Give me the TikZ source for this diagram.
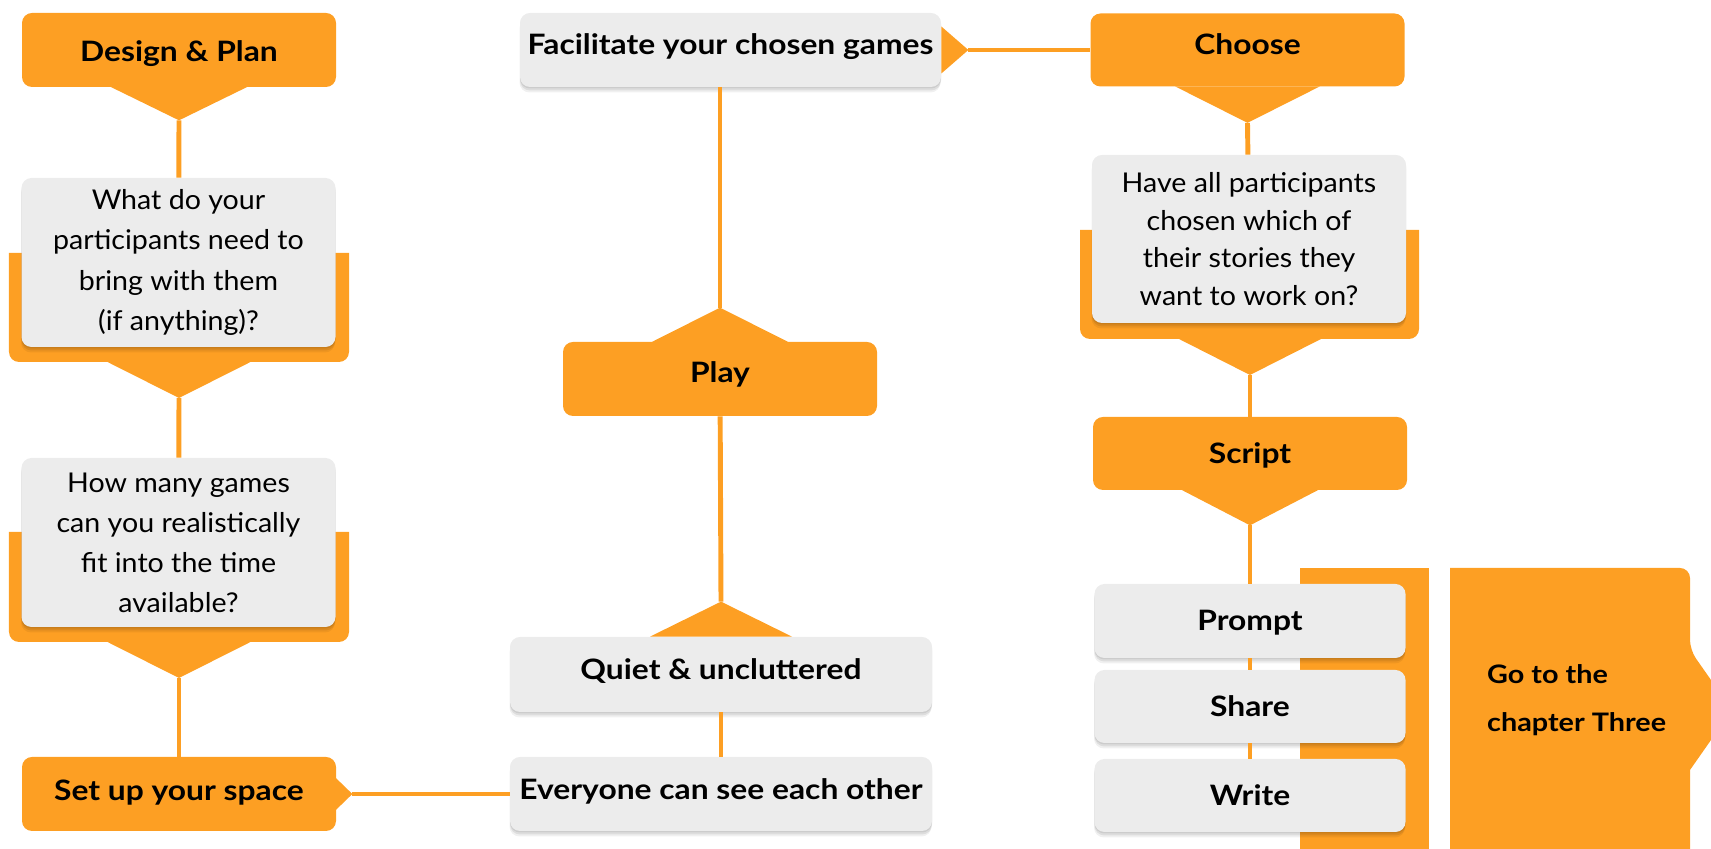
\documentclass[tikz,border=0pt]{standalone}
\usepackage{fontspec}
\setmainfont{Lato}[UprightFeatures={FakeStretch=1.05}, BoldFeatures={FakeStretch=1.13}]
\usetikzlibrary{positioning,calc,shadows}
\definecolor{flowOrange}{RGB}{253,159,35}
\definecolor{flowGray}{RGB}{236,236,236}

\begin{document}
\begin{tikzpicture}[
  boxbase/.style={rectangle, rounded corners=0.2cm, inner sep=0pt, minimum width=6.28cm, minimum height=1.48cm, align=center},
  softshadow/.style={drop shadow={shadow xshift=0pt, shadow yshift=-0.03cm, opacity=0.08, fill=black},
                     drop shadow={shadow xshift=0pt, shadow yshift=-0.07cm, opacity=0.08, fill=black},
                     drop shadow={shadow xshift=-0.01cm, shadow yshift=-0.11cm, opacity=0.06, fill=black}},
  orangebox/.style={boxbase, fill=flowOrange, font=\fontsize{16}{22}\selectfont\bfseries, text height=0.45cm, text depth=0.05cm},
  graybox/.style={boxbase, fill=flowGray, softshadow, font=\fontsize{16}{22}\selectfont\bfseries, text height=0.45cm, text depth=0.05cm},
  question/.style={boxbase, fill=flowGray, softshadow, minimum height=3.38cm, font=\fontsize{15.5}{22.8}\selectfont},
  link/.style={draw=flowOrange, line width=2.8pt},
  backing/.style={fill=flowOrange}
]

\useasboundingbox (0,0) rectangle (34.22,16.98);
\clip (0,0) rectangle (34.22,16.98);

% --- Fondos naranjas (detras de las preguntas) ---
\fill[backing] (0.18,11.92) -- (0.18,10.5) [rounded corners=0.2cm] -- (0.18,9.74) -- (6.98,9.74) -- (6.98,10.5) [sharp corners] -- (6.98,11.92) -- cycle;
\fill[backing] (0.18,6.34) -- (0.18,5.0) [rounded corners=0.2cm] -- (0.18,4.14) -- (6.98,4.14) -- (6.98,5.0) [sharp corners] -- (6.98,6.34) -- cycle;
\fill[backing] (21.6,12.38) -- (21.6,11.0) [rounded corners=0.2cm] -- (21.6,10.2) -- (28.38,10.2) -- (28.38,11.0) [sharp corners] -- (28.38,12.38) -- cycle;
\coordinate (back1tip) at (3.58,9.02);
\coordinate (back2tip) at (3.58,3.42);
\coordinate (back3tip) at (25.0,9.48);
\fill[backing] (2.13,9.75) -- (5.03,9.75) -- (back1tip) -- cycle;
\fill[backing] (2.13,4.15) -- (5.03,4.15) -- (back2tip) -- cycle;
\fill[backing] (23.56,10.21) -- (26.44,10.21) -- (back3tip) -- cycle;

% --- Barra y flecha final ---
\fill[backing] (26.0,-0.1) rectangle (28.58,5.62);
\fill[backing] (29.0,-0.1) -- (29.0,5.62) [rounded corners=0.2cm] -- (33.8,5.62) -- (33.8,3.98) [sharp corners] -- (34.64,2.78) -- (33.8,1.58) -- (33.8,-0.1) -- cycle;

% --- Nodos ---
\node[orangebox, text height=0.49cm, text depth=0.01cm] (design) at (3.58,15.98) {Design \& Plan};
\node[question] (q1) at (3.57,11.73) {What do your\\participants need to\\bring with them\\(if anything)?};
\node[question] (q2) at (3.57,6.13) {How many games\\can you realistically\\fit into the time\\available?};
\node[orangebox, text height=0.39cm, text depth=0.11cm] (setup) at (3.58,1.10) {Set up your space};

\node[graybox, minimum width=8.44cm, text height=0.36cm, text depth=0.14cm] (everyone) at (14.42,1.10) {Everyone can see each other};
\node[graybox, minimum width=8.44cm, minimum height=1.5cm, text height=0.36cm, text depth=0.14cm] (quiet) at (14.42,3.49) {Quiet \& uncluttered};
\node[orangebox, text height=0.33cm, text depth=0.17cm] (play) at (14.40,9.40) {Play};
\node[graybox, minimum width=8.42cm, text height=0.35cm, text depth=0.15cm] (facil) at (14.61,15.98) {Facilitate your chosen games};

\node[orangebox, minimum height=1.46cm, text height=0.34cm, text depth=0.16cm] (choose) at (24.95,15.98) {Choose};
\node[question, minimum height=3.36cm, font=\fontsize{15.5}{21.4}\selectfont] (q3) at (24.98,12.20) {Have all participants\\chosen which of\\their stories they\\want to work on?};
\node[orangebox, minimum height=1.46cm] (script) at (25.0,7.91) {Script};
\node[graybox, minimum width=6.22cm] (prompt) at (25.0,4.56) {Prompt};
\node[graybox, minimum width=6.22cm, minimum height=1.46cm] (share) at (25.0,2.85) {Share};
\node[graybox, minimum width=6.22cm, minimum height=1.46cm] (write) at (25.0,1.07) {Write};
\node[anchor=west, align=left, font=\fontsize{14.5}{27.3}\selectfont\bfseries] (goto) at (29.62,2.98) {Go to the\\chapter Three};

% --- Puntas de los cuadros naranjas ---
\coordinate (designtip) at ([yshift=-0.66cm]design.south);
\coordinate (choosetip) at ([yshift=-0.72cm]choose.south);
\coordinate (scripttip) at ([yshift=-0.70cm]script.south);
\coordinate (playtip) at ([yshift=0.68cm]play.north);
\coordinate (quiettip) at ([yshift=0.70cm]quiet.north);
\coordinate (faciltip) at ([xshift=0.54cm]facil.east);
\coordinate (setuptip) at ([xshift=0.32cm]setup.east);
\fill[backing] ([xshift=-1.37cm,yshift=0.01cm]design.south) -- ([xshift=1.37cm,yshift=0.01cm]design.south) -- (designtip) -- cycle;
\fill[backing] ([xshift=-1.45cm,yshift=0.01cm]choose.south) -- ([xshift=1.45cm,yshift=0.01cm]choose.south) -- (choosetip) -- cycle;
\fill[backing] ([xshift=-1.37cm,yshift=0.01cm]script.south) -- ([xshift=1.37cm,yshift=0.01cm]script.south) -- (scripttip) -- cycle;
\fill[backing] ([xshift=-1.37cm,yshift=-0.01cm]play.north) -- ([xshift=1.37cm,yshift=-0.01cm]play.north) -- (playtip) -- cycle;
\fill[backing] ([xshift=-1.42cm]quiet.north) -- ([xshift=1.42cm]quiet.north) -- (quiettip) -- cycle;
\fill[backing] ([yshift=0.47cm]facil.east) -- ([yshift=-0.47cm]facil.east) -- (faciltip) -- cycle;
\fill[backing] ([xshift=-0.01cm,yshift=0.32cm]setup.east) -- ([xshift=-0.01cm,yshift=-0.32cm]setup.east) -- (setuptip) -- cycle;

% --- Flujo ---
\draw[link] (designtip) -- (q1);
\draw[link] (back1tip) -- (q2);
\draw[link] (back2tip) -- (setup);
\draw[link] (setuptip) -- (everyone);
\draw[link] (everyone) -- (quiet);
\draw[link] (quiettip) -- (play);
\draw[link] (playtip) -- (playtip |- facil.south);
\draw[link] (faciltip) -- (choose);
\draw[link] (choosetip) -- (q3);
\draw[link] (back3tip) -- (script);
\draw[link] (scripttip) -- (prompt);
\draw[link] (prompt) -- (share);
\draw[link] (share) -- (write);

\end{tikzpicture}
\end{document}
